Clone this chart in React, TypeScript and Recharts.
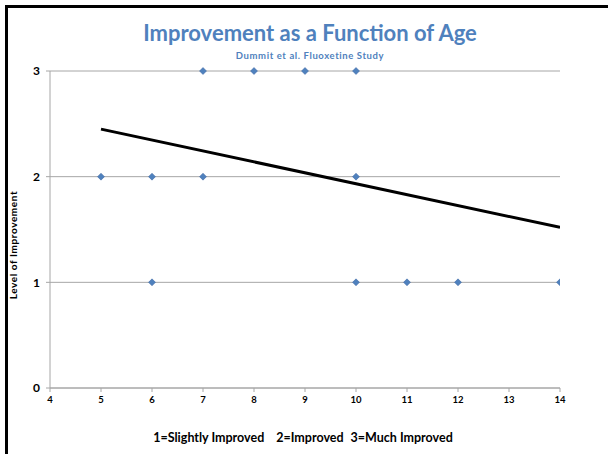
import React from "react";
import { ComposedChart, Scatter, Line, XAxis, YAxis, CartesianGrid } from "recharts";

const ages = [5, 6, 6, 7, 7, 8, 9, 10, 10, 10, 11, 12, 14];
const levels = [2, 2, 1, 3, 2, 3, 3, 3, 2, 1, 1, 1, 1];
const trendAges = [5, 14];
const trendLevels = [2.45, 1.52];
const xTicks = [4, 5, 6, 7, 8, 9, 10, 11, 12, 13, 14];
const yTicks = [0, 1, 2, 3];
const legendParts = ["1=Slightly Improved", "2=Improved", "3=Much Improved"];

const points = ages.map((x, i) => ({ x, y: levels[i] }));
const trend = trendAges.map((x, i) => ({ x, t: trendLevels[i] }));

const FONT = "Lato, 'Open Sans', sans-serif";
const BLUE = "#4F81BD";

const Diamond = (props: any) => {
  const { cx, cy } = props;
  if (cx == null || cy == null) return null;
  const r = 3.5;
  return (
    <polygon
      points={`${cx},${cy - r} ${cx + r},${cy} ${cx},${cy + r} ${cx - r},${cy}`}
      fill={BLUE}
      stroke="#3a63a0"
      strokeWidth={0.5}
    />
  );
};

export default function App() {
  return (
    <div style={{ position: "absolute", left: 0, top: 0, width: 608, height: 454, overflow: "hidden", background: "#fff" }}>
      <div
        style={{
          position: "absolute",
          left: 5,
          top: 5,
          width: 700,
          height: 600,
          border: "3px solid #000",
          boxSizing: "border-box",
        }}
      />
      <div style={{ position: "absolute", left: 0, top: 0 }}>
        <ComposedChart
          width={608}
          height={454}
          margin={{ top: 71, right: 48, bottom: 36, left: 20 }}
        >
          <text x={310} y={41} textAnchor="middle" fill={BLUE} fontFamily={FONT} fontWeight={700} fontSize={22}>
            Improvement as a Function of Age
          </text>
          <text x={310} y={58.5} textAnchor="middle" fill={BLUE} fontFamily={FONT} fontWeight={700} fontSize={9.5} letterSpacing={0.6}>
            Dummit et al. Fluoxetine Study
          </text>
          <text
            x={0}
            y={0}
            transform="translate(17,245) rotate(-90)"
            textAnchor="middle"
            fill="#000"
            fontFamily={FONT}
            fontWeight={700}
            fontSize={10}
            letterSpacing={0.6}
          >
            Level of Improvement
          </text>
          <text
            x={303}
            y={442}
            textAnchor="middle"
            fill="#000"
            fontFamily={FONT}
            fontWeight={700}
            fontSize={12.5}
          >
            <tspan>{legendParts[0]}</tspan>
            <tspan dx={12}>{legendParts[1]}</tspan>
            <tspan dx={7}>{legendParts[2]}</tspan>
          </text>
          <CartesianGrid vertical={false} stroke="#a6a6a6" strokeWidth={1} />
          <XAxis
            type="number"
            dataKey="x"
            domain={[4, 14]}
            ticks={xTicks}
            interval={0}
            allowDataOverflow
            height={30}
            stroke="#a6a6a6"
            tickSize={4}
            tickMargin={4}
            tick={{ fill: "#000", fontSize: 9.5, fontWeight: 700, fontFamily: FONT }}
          />
          <YAxis
            type="number"
            domain={[0, 3]}
            ticks={yTicks}
            interval={0}
            width={30}
            stroke="#a6a6a6"
            tickSize={4}
            tickMargin={6}
            tick={{ fill: "#000", fontSize: 12, fontWeight: 700, fontFamily: FONT }}
          />
          <Scatter data={points} dataKey="y" shape={<Diamond />} isAnimationActive={false} />
          <Line
            data={trend}
            dataKey="t"
            stroke="#000"
            strokeWidth={3}
            dot={false}
            activeDot={false}
            isAnimationActive={false}
            type="linear"
          />
        </ComposedChart>
      </div>
    </div>
  );
}
